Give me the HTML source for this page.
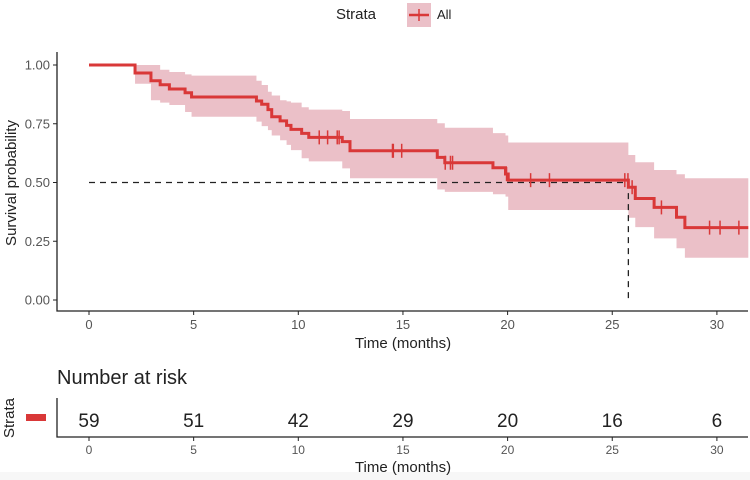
<!DOCTYPE html>
<html><head><meta charset="utf-8"><style>
body{margin:0;background:#fff;}
svg{display:block;font-family:"Liberation Sans",sans-serif;}
</style></head><body>
<svg id="chart" width="750" height="480">
  <rect x="0" y="472" width="750" height="8" fill="#f7f7f7"/>
  <g id="legend">
    <text x="336" y="19" font-size="15" fill="#222">Strata</text>
    <rect x="407" y="3" width="24" height="24" fill="#ebc0c8"/>
    <line x1="409" y1="15" x2="429" y2="15" stroke="#d93838" stroke-width="2.5"/>
    <line x1="419" y1="9" x2="419" y2="21" stroke="#d93838" stroke-width="1.5"/>
    <text x="437" y="19" font-size="13" fill="#222">All</text>
  </g>
  <g id="plot"></g>
  <g id="risk"></g>
</svg>
<script>
const times =  [0, 2.2, 2.96, 3.4, 3.84, 4.59, 4.9, 8.0, 8.25, 8.55, 8.73, 9.13, 9.44, 9.65, 10.16, 10.5, 12.1, 12.47, 16.64, 17.0, 19.3, 19.9, 20.03, 25.77, 26.1, 27.0, 28.07, 28.47];
const surv =   [1.0, 0.966, 0.933, 0.916, 0.898, 0.882, 0.864, 0.847, 0.833, 0.81, 0.78, 0.762, 0.743, 0.726, 0.709, 0.692, 0.674, 0.635, 0.607, 0.584, 0.563, 0.536, 0.51, 0.48, 0.432, 0.394, 0.352, 0.308];
const upper =  [1.0, 1.0, 1.0, 0.98, 0.97, 0.96, 0.955, 0.933, 0.915, 0.886, 0.87, 0.85, 0.845, 0.84, 0.82, 0.81, 0.804, 0.77, 0.752, 0.733, 0.71, 0.7, 0.67, 0.617, 0.586, 0.553, 0.535, 0.518];
const lower =  [1.0, 0.92, 0.85, 0.84, 0.83, 0.80, 0.78, 0.759, 0.74, 0.723, 0.70, 0.68, 0.66, 0.638, 0.603, 0.59, 0.56, 0.518, 0.47, 0.46, 0.45, 0.44, 0.383, 0.35, 0.31, 0.262, 0.22, 0.18];
const censored = [11.0, 11.4, 11.86, 11.95, 14.5, 14.54, 14.94, 17.02, 17.27, 17.37, 19.95, 21.1, 22.0, 25.6, 25.75, 25.95, 27.35, 29.65, 30.15, 31.05];
const riskTimes = [0, 5, 10, 15, 20, 25, 30];
const riskCounts = [59, 51, 42, 29, 20, 16, 6];
const xTicks = [0, 5, 10, 15, 20, 25, 30];
const yTicks = [0, 0.25, 0.5, 0.75, 1.0];
const yTickLabels = ["0.00", "0.25", "0.50", "0.75", "1.00"];
const median = 25.77;
const tMax = 31.5;

const NS = "http://www.w3.org/2000/svg";
const X = t => 89 + t * 20.93;
const Y = s => 300 - s * 235;
function mk(parent, tag, attrs){const e=document.createElementNS(NS,tag);for(const k in attrs)e.setAttribute(k,attrs[k]);parent.appendChild(e);return e;}
const plot = document.getElementById('plot');
const risk = document.getElementById('risk');

let up = [], lo = [];
for(let i=0;i<times.length;i++){
  const t0 = X(times[i]), t1 = X(i+1<times.length?times[i+1]:tMax);
  up.push(t0+','+Y(upper[i]), t1+','+Y(upper[i]));
  lo.push(t0+','+Y(lower[i]), t1+','+Y(lower[i]));
}
const band = mk(plot,'polygon',{points: up.concat(lo.reverse()).join(' '), fill:'#ebc0c8'});



const m1 = mk(plot,'path',{d:`M${X(0)},${Y(0.5)}H${X(median)}V${Y(0)}`, stroke:'#222', 'stroke-width':1.3, 'stroke-dasharray':'6,5', fill:'none'});



let d = `M${X(times[0])},${Y(surv[0])}`;
for(let i=1;i<times.length;i++){ d += `H${X(times[i])}V${Y(surv[i])}`; }
d += `H${X(tMax)}`;
const curve = mk(plot,'path',{d, stroke:'#d93838','stroke-width':3, fill:'none'});



function survAt(t){let s=1;for(let i=0;i<times.length;i++) if(times[i]<=t) s=surv[i]; return s;}
censored.forEach(t=>{
  const c = mk(plot,'line',{x1:X(t),x2:X(t),y1:Y(survAt(t))-7,y2:Y(survAt(t))+7,stroke:'#d93838','stroke-width':1.5});
  
  
});

const ax = mk(plot,'path',{d:'M57,52V311H748', stroke:'#222','stroke-width':1.3, fill:'none'});


xTicks.forEach(t=>{
  mk(plot,'line',{x1:X(t),x2:X(t),y1:311,y2:315,stroke:'#222'});
  const l = mk(plot,'text',{x:X(t),y:329,'text-anchor':'middle','font-size':13,fill:'#555'}); l.textContent=t;
  
  
});
yTicks.forEach((v,i)=>{
  mk(plot,'line',{x1:53,x2:57,y1:Y(v),y2:Y(v),stroke:'#222'});
  const l = mk(plot,'text',{x:50,y:Y(v)+4.5,'text-anchor':'end','font-size':13,fill:'#555'}); l.textContent=yTickLabels[i];
  
  
});
const xt = mk(plot,'text',{x:403,y:348,'text-anchor':'middle','font-size':15,fill:'#222'}); xt.textContent='Time (months)';


const yt = mk(plot,'text',{x:0,y:0,transform:'translate(16,183) rotate(-90)','text-anchor':'middle','font-size':15,fill:'#222'}); yt.textContent='Survival probability';



const rt = mk(risk,'text',{x:57,y:384,'font-size':20,fill:'#222'}); rt.textContent='Number at risk';


const st = mk(risk,'text',{x:0,y:0,transform:'translate(14,418) rotate(-90)','text-anchor':'middle','font-size':15,fill:'#222'}); st.textContent='Strata';


const rb = mk(risk,'rect',{x:26,y:414,width:20,height:7,fill:'#d93838'});


mk(risk,'path',{d:'M57,398V437H748',stroke:'#222','stroke-width':1.3,fill:'none'});
riskTimes.forEach((t,i)=>{
  const n = mk(risk,'text',{x:X(t),y:427,'text-anchor':'middle','font-size':19,fill:'#222'}); n.textContent=riskCounts[i];
  
  
});
xTicks.forEach(t=>{
  mk(risk,'line',{x1:X(t),x2:X(t),y1:437,y2:441,stroke:'#222'});
  const l = mk(risk,'text',{x:X(t),y:454,'text-anchor':'middle','font-size':12,fill:'#555'}); l.textContent=t;
  
  
});
const rxt = mk(risk,'text',{x:403,y:472,'text-anchor':'middle','font-size':15,fill:'#222'}); rxt.textContent='Time (months)';


</script>
</body></html>
